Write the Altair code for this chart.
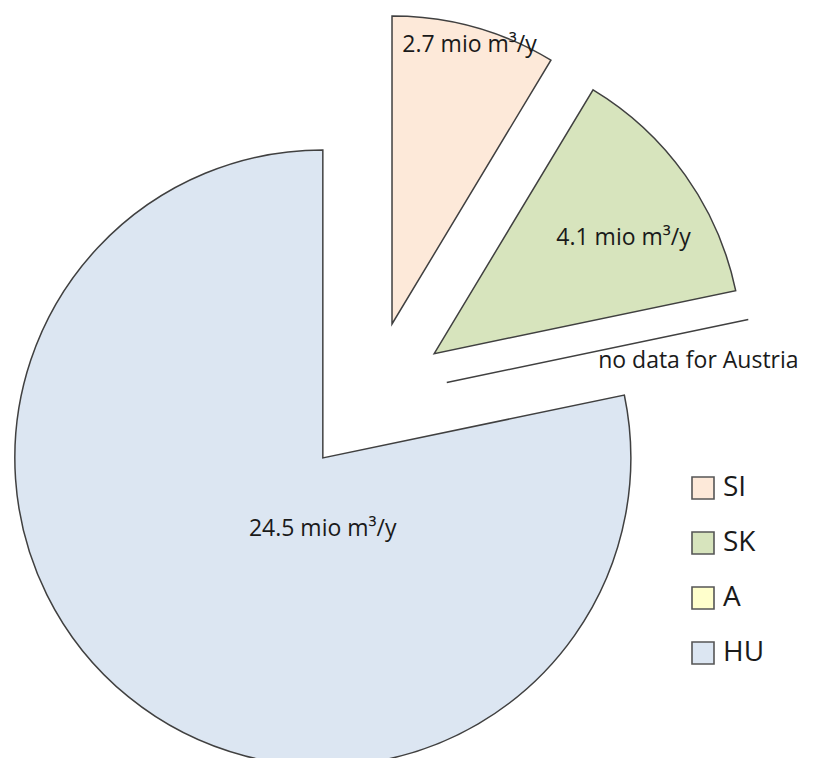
import math
import altair as alt
import pandas as pd

# ---- data ----
categories = ["SI", "SK", "A", "HU"]
values = [2.7, 4.1, 0.0, 24.5]
labels = ["2.7 mio m³/y", "4.1 mio m³/y", "no data for Austria", "24.5 mio m³/y"]
colors = ["#FDE9D9", "#D7E4BD", "#FFFFCC", "#DCE6F2"]

# ---- label placement (style): radius fraction and angle shift in degrees ----
label_r = {"SI": 0.94, "SK": 0.72, "A": 0.82, "HU": 0.23}
label_shift = {"SI": 0.0, "SK": 4.0, "A": 6.8, "HU": -39.0}

W, H = 801, 750
CX, CY = 363.4, 390.2   # pie centre in the plot area
R = 308                 # pie radius
D = 77                  # explosion distance
FONT = "Open Sans"

df = pd.DataFrame({
    "cat": categories,
    "value": values,
    "label": labels,
    "order": list(range(len(categories))),
    "lr": [label_r[c] for c in categories],
    "ls": [label_shift[c] for c in categories],
})

base = alt.Chart(df).transform_joinaggregate(
    total="sum(value)"
).transform_window(
    cum="sum(value)", sort=[alt.SortField("order")], frame=[None, 0]
).transform_calculate(
    start="(datum.cum - datum.value) / datum.total * 2 * PI",
    end="datum.cum / datum.total * 2 * PI",
).transform_calculate(
    mid="(datum.start + datum.end) / 2",
).transform_calculate(
    px=f"{CX} + {D} * sin(datum.mid)",
    py=f"{CY} - {D} * cos(datum.mid)",
).transform_calculate(
    lang="datum.mid + datum.ls * PI / 180",
).transform_calculate(
    lx=f"datum.px + datum.lr * {R} * sin(datum.lang)",
    ly=f"datum.py - datum.lr * {R} * cos(datum.lang)",
)

color = alt.Color(
    "cat:N",
    scale=alt.Scale(domain=categories, range=colors),
    sort=categories,
    legend=alt.Legend(
        title=None,
        orient="none",
        legendX=681,
        legendY=466,
        symbolType="square",
        symbolSize=484,
        symbolStrokeColor="#555555",
        symbolStrokeWidth=1.6,
        labelFontSize=28,
        labelFont=FONT,
        labelColor="#1a1a1a",
        labelOffset=6,
        rowPadding=25,
        padding=0,
    ),
)

arcs = base.mark_arc(
    radius=R, stroke="#404040", strokeWidth=1.5, strokeJoin="miter"
).encode(
    x=alt.X("px:Q", scale=None, axis=None),
    y=alt.Y("py:Q", scale=None, axis=None),
    theta=alt.Theta("start:Q", scale=None),
    theta2="end:Q",
    color=color,
    order=alt.Order("order:Q"),
)

text = base.mark_text(
    font=FONT, fontSize=23, color="#1a1a1a", align="center", baseline="middle"
).encode(
    x=alt.X("lx:Q", scale=None, axis=None),
    y=alt.Y("ly:Q", scale=None, axis=None),
    text="label:N",
)

chart = alt.layer(arcs, text).properties(
    width=W, height=H, padding=0, autosize=alt.AutoSizeParams(type="none")
).configure_view(stroke=None)

chart.save("out.html", embed_options={"renderer": "svg", "actions": False})
